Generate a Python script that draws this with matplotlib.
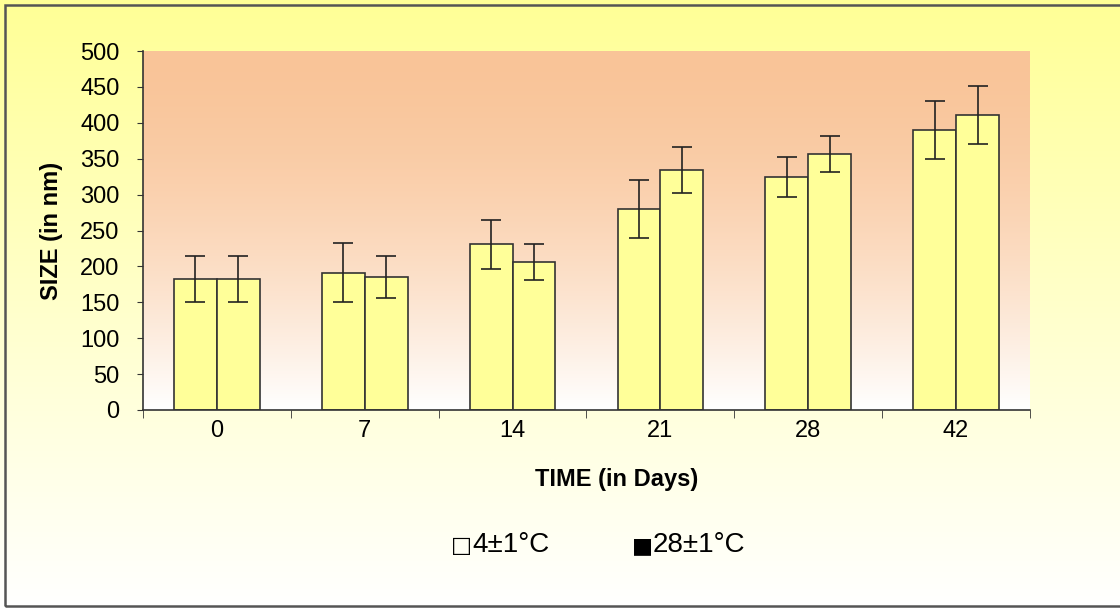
import numpy as np
import matplotlib.pyplot as plt
from matplotlib.patches import Rectangle

# ----------------------------------------------------------------
# Datos
# ----------------------------------------------------------------
dias = ['0', '7', '14', '21', '28', '42']
tam_4c = [182, 191, 231, 280, 324, 390]
err_4c = [32, 41, 34, 41, 28, 40]
tam_28c = [182, 185, 206, 334, 357, 411]
err_28c = [32, 29, 25, 32, 25, 40]

plt.rcParams['font.family'] = ['Liberation Sans', 'DejaVu Sans']

fig = plt.figure(figsize=(11.2, 6.08), dpi=100)

# fondo de la figura: degradado amarillo -> blanco
bg = fig.add_axes([0, 0, 1, 1], zorder=-10)
grad = np.linspace(0, 1, 256)[:, None]
top = np.array([255, 255, 150]) / 255
bot = np.array([255, 255, 255]) / 255
img = top + (bot - top) * grad[..., None]
bg.imshow(img, aspect='auto', extent=[0, 1, 0, 1], origin='upper')
bg.add_patch(Rectangle((5 / 1120, 2 / 608), 1.2, 601 / 608, fill=False,
                       edgecolor='#555555', lw=1.8, transform=bg.transAxes))
bg.axis('off')

# área del gráfico
ax = fig.add_axes([143 / 1120, 1 - 410 / 608, 887 / 1120, 359 / 608])
ax.set_xlim(-0.5, len(dias) - 0.5)
ax.set_ylim(0, 500)

g = np.linspace(0, 1, 256) ** 1.6
p_top = np.array([249, 196, 152]) / 255
p_img = p_top + (bot - p_top) * g[:, None, None]
ax.imshow(p_img, aspect='auto', extent=[-0.5, len(dias) - 0.5, 0, 500],
          origin='upper', zorder=0)

x = np.arange(len(dias))
w = 0.29
kw = dict(color='#ffff99', edgecolor='#333333', linewidth=1.2, zorder=2,
          error_kw=dict(ecolor='#222222', elinewidth=1.2, capsize=7, capthick=1.2))
ax.bar(x - w / 2, tam_4c, w, yerr=err_4c, **kw)
ax.bar(x + w / 2, tam_28c, w, yerr=err_28c, **kw)

for s in ['top', 'right']:
    ax.spines[s].set_visible(False)
for s in ['left', 'bottom']:
    ax.spines[s].set_color('#333333')
    ax.spines[s].set_linewidth(1.2)

ax.set_yticks(np.arange(0, 501, 50))
ax.tick_params(axis='y', labelsize=17, length=4, color='#333333', pad=13)
ax.set_xticks(x)
ax.set_xticklabels(dias)
ax.tick_params(axis='x', labelsize=17, length=0, pad=7)
ax.set_xticks(np.arange(-0.5, len(dias), 1), minor=True)
ax.tick_params(axis='x', which='minor', length=6, color='#333333')

ax.set_ylabel('SIZE (in nm)', fontsize=17, fontweight='bold', labelpad=12)
ax.set_xlabel('TIME (in Days)', fontsize=17, fontweight='bold')
ax.xaxis.set_label_coords(0.534, -0.162)

# leyenda como texto
fig.text(451 / 1120, 1 - 546 / 608, '□', fontsize=16, ha='left', va='center',
         family=['DejaVu Sans'])
fig.text(472 / 1120, 1 - 545 / 608, '4±1°C', fontsize=20, ha='left', va='center')
fig.text(632 / 1120, 1 - 546 / 608, '■', fontsize=16, ha='left', va='center',
         family=['DejaVu Sans'])
fig.text(653 / 1120, 1 - 545 / 608, '28±1°C', fontsize=20, ha='left', va='center')

fig.savefig('out.png', dpi=100)
